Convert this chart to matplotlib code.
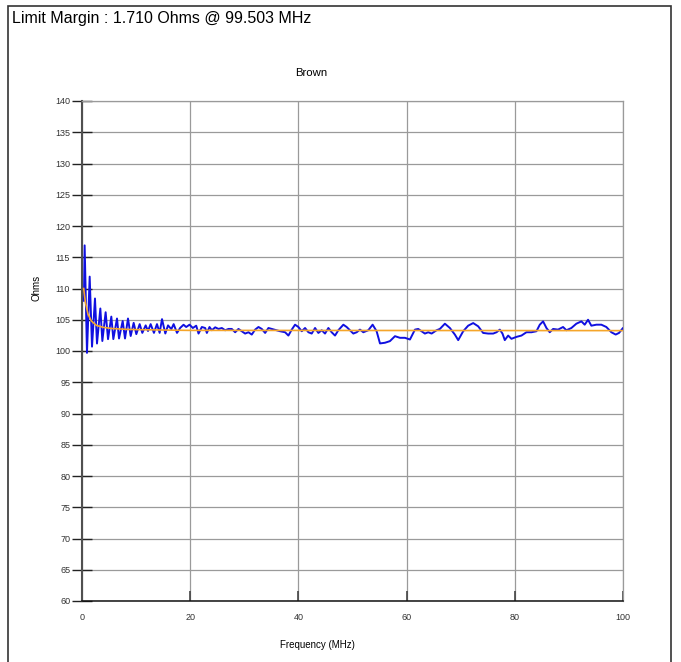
import matplotlib
matplotlib.use("Agg")
import matplotlib.pyplot as plt
from matplotlib.patches import Rectangle

plt.rcParams['font.family'] = ['Liberation Sans', 'DejaVu Sans']

# measured impedance (blue trace)
freq_mhz = [0.35, 0.49, 0.92, 1.42, 1.85, 2.40, 2.77, 3.39, 3.76, 4.37, 4.81, 5.42,
            5.79, 6.47, 6.84, 7.52, 7.95, 8.50, 9.00, 9.55, 10.04, 10.66, 11.15,
            11.77, 12.20, 12.69, 13.30, 13.86, 14.35, 14.79, 15.40, 15.90, 16.51,
            16.94, 17.56, 18.15, 18.77, 19.26, 19.88, 20.49, 21.11, 21.54, 22.15,
            22.77, 23.08, 23.57, 24.00, 24.62, 25.23, 25.85, 26.46, 27.08, 27.69,
            28.31, 28.92, 29.54, 30.15, 30.77, 31.38, 32.00, 32.62, 33.23, 33.85,
            34.46, 35.08, 36.00, 36.62, 37.54, 38.15, 38.77, 39.38, 40.00, 40.62,
            41.23, 41.85, 42.46, 43.08, 43.69, 44.31, 44.92, 45.54, 46.15, 46.77,
            47.38, 48.31, 48.92, 49.54, 50.15, 50.77, 51.38, 52.00, 52.92, 53.72,
            54.46, 55.08, 56.00, 56.92, 57.85, 58.77, 59.69, 60.62, 61.54, 62.15,
            62.77, 63.38, 64.00, 64.62, 65.54, 66.15, 67.08, 68.00, 68.92, 69.54,
            70.46, 71.38, 72.31, 73.23, 74.15, 75.08, 76.00, 76.62, 77.23, 77.72,
            78.15, 78.77, 79.38, 80.31, 81.23, 82.15, 83.08, 84.00, 84.62, 85.23,
            85.85, 86.46, 87.08, 88.00, 88.92, 89.54, 90.46, 91.38, 92.31, 92.92,
            93.54, 94.15, 95.08, 96.00, 96.92, 97.85, 98.65, 99.26, 100.00]
ohms = [108.0, 116.9, 99.7, 111.9, 100.7, 108.4, 101.2, 106.8, 101.6, 106.2, 101.9, 105.5,
        101.9, 105.2, 102.0, 104.8, 102.0, 105.2, 102.4, 104.5, 102.7, 104.3, 102.9,
        104.1, 103.2, 104.3, 102.9, 104.3, 102.9, 105.1, 102.8, 104.1, 103.5,
        104.3, 102.9, 103.7, 104.2, 103.84, 104.21, 103.68, 104.05, 102.79, 103.84,
        103.68, 102.89, 103.84, 103.32, 103.79, 103.53, 103.68, 103.32, 103.53, 103.53,
        103.00, 103.53, 103.16, 102.79, 103.00, 102.63, 103.42, 103.84, 103.53, 102.89,
        103.68, 103.53, 103.32, 103.16, 103.00, 102.47, 103.42, 104.21, 103.84, 103.16,
        103.68, 103.00, 102.79, 103.68, 102.89, 103.32, 102.79, 103.68, 103.00, 102.47,
        103.32, 104.21, 103.84, 103.32, 102.79, 103.00, 103.42, 103.00, 103.32, 104.21,
        103.16, 101.21, 101.32, 101.58, 102.37, 102.11, 102.11, 101.84, 103.42, 103.53,
        103.16, 102.79, 103.00, 102.79, 103.32, 103.53, 104.37, 103.68, 102.63, 101.74,
        103.16, 104.05, 104.47, 103.95, 102.89, 102.79, 102.79, 103.00, 103.42, 102.79,
        101.74, 102.47, 101.95, 102.26, 102.47, 103.00, 103.00, 103.16, 104.21, 104.74,
        103.68, 103.00, 103.53, 103.42, 103.84, 103.32, 103.68, 104.37, 104.74, 104.21,
        105.00, 104.05, 104.21, 104.21, 103.84, 103.00, 102.63, 102.89, 103.68]

# limit curve (orange)
limit_freq = [0.31, 0.62, 1.11, 1.73, 2.65, 3.88, 5.42, 8.5, 11.58, 19.6, 100.0]
limit_ohms = [110.0, 107.8, 105.9, 104.8, 104.1, 103.8, 103.6, 103.45, 103.4, 103.3, 103.26]

x_ticks = [0, 20, 40, 60, 80, 100]
y_ticks = list(range(60, 141, 5))

fig = plt.figure(figsize=(6.81, 6.62), dpi=100)
ax = fig.add_axes([82 / 681, 1 - 601 / 662, (623 - 82) / 681, (601 - 101) / 662])

ax.plot(freq_mhz, ohms, color='#1010e0', lw=1.4, zorder=3,
        solid_joinstyle='round', solid_capstyle='round')
ax.plot(limit_freq, limit_ohms, color='#f5a52a', lw=1.2, zorder=4,
        solid_joinstyle='round')

ax.set_xlim(0, 100)
ax.set_ylim(60, 140)
ax.set_xticks(x_ticks)
ax.set_yticks(y_ticks)
ax.grid(True, color='#9a9a9a', lw=0.9)
ax.set_axisbelow(True)

ax.tick_params(axis='y', direction='inout', length=15, width=1.0, color='#222222',
               labelsize=6.5, labelcolor='#333333', pad=1)
ax.tick_params(axis='x', direction='in', length=7, width=1.2, color='#444444',
               labelsize=6.5, labelcolor='#333333', pad=9)

ax.spines['left'].set_color('#505050')
ax.spines['left'].set_linewidth(1.5)
ax.spines['bottom'].set_color('#111111')
ax.spines['bottom'].set_linewidth(1.1)
for side in ['top', 'right']:
    ax.spines[side].set_color('#9a9a9a')
    ax.spines[side].set_linewidth(0.9)

fig.text(311 / 681, 1 - 73 / 662, 'Brown', ha='center', va='center', fontsize=8.2)
fig.text(317 / 681, 1 - 645 / 662, 'Frequency (MHz)', ha='center', va='center', fontsize=7)
fig.text(36 / 681, 1 - 288 / 662, 'Ohms', ha='center', va='center', rotation=90, fontsize=7)
fig.text(12 / 681, 1 - 18 / 662, 'Limit Margin : 1.710 Ohms @ 99.503 MHz',
         ha='left', va='center', fontsize=11.5)

# outer frame
fig.patches.append(Rectangle((8 / 681, -0.02), (671 - 8) / 681, 1 - 6 / 662 + 0.02,
                             transform=fig.transFigure, fill=False,
                             edgecolor='#333333', lw=1.2))

fig.savefig('out.png', dpi=100)
